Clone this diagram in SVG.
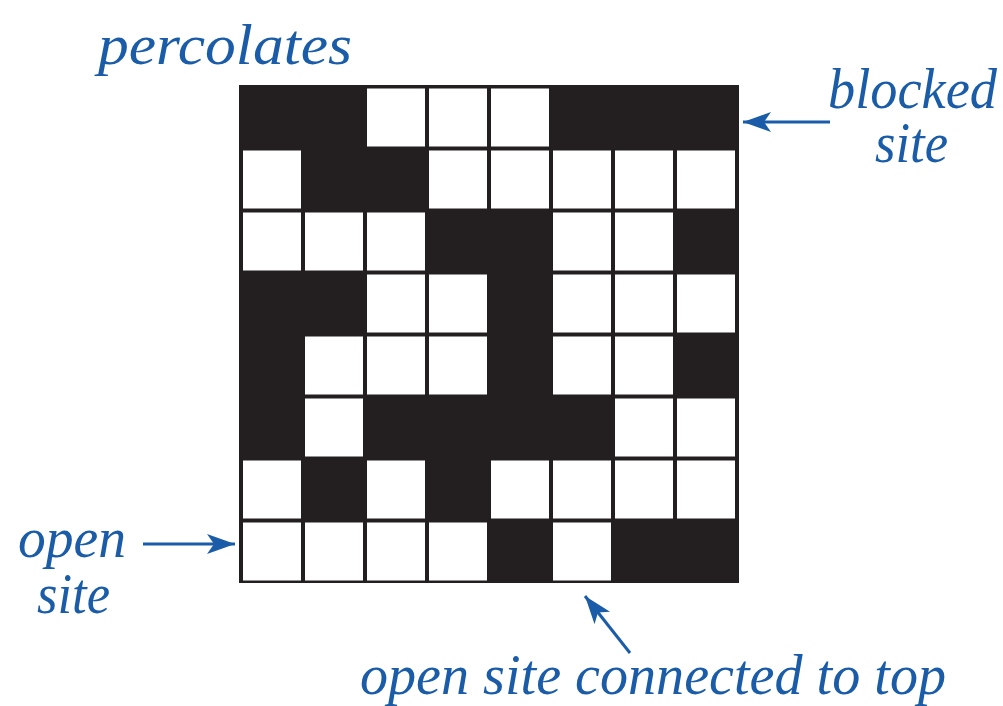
<svg xmlns="http://www.w3.org/2000/svg" width="1003" height="706" viewBox="0 0 1003 706">
<style>
.lbl{font-family:"Liberation Serif","DejaVu Serif",serif;font-style:italic;font-size:56px;fill:#1a5ca8}
.w{fill:#ffffff}
.conn{stroke:#1a5ca8;stroke-width:3;fill:none;marker-end:url(#ah)}
</style>
<defs>
<marker id="ah" viewBox="0 0 28 20" refX="28" refY="10" markerWidth="28" markerHeight="20" markerUnits="userSpaceOnUse" orient="auto">
<path d="M0,0 L28,10 L0,20 L7,10 z" fill="#1a5ca8"/>
</marker>
</defs>
<rect width="1003" height="706" fill="#ffffff"/>
<g id="grid">
<rect x="239" y="85" width="500" height="498" fill="#231f20"/>
<!-- row 0: B B W W W B B B -->
<rect class="w" x="367" y="88.5" width="58" height="58"/>
<rect class="w" x="429" y="88.5" width="58" height="58"/>
<rect class="w" x="491" y="88.5" width="58" height="58"/>
<!-- row 1: W B B W W W W W -->
<rect class="w" x="243" y="150.5" width="58" height="58"/>
<rect class="w" x="429" y="150.5" width="58" height="58"/>
<rect class="w" x="491" y="150.5" width="58" height="58"/>
<rect class="w" x="553" y="150.5" width="58" height="58"/>
<rect class="w" x="615" y="150.5" width="58" height="58"/>
<rect class="w" x="677" y="150.5" width="58" height="58"/>
<!-- row 2: W W W B B W W B -->
<rect class="w" x="243" y="212.5" width="58" height="58"/>
<rect class="w" x="305" y="212.5" width="58" height="58"/>
<rect class="w" x="367" y="212.5" width="58" height="58"/>
<rect class="w" x="553" y="212.5" width="58" height="58"/>
<rect class="w" x="615" y="212.5" width="58" height="58"/>
<!-- row 3: B B W W B W W W -->
<rect class="w" x="367" y="274.5" width="58" height="58"/>
<rect class="w" x="429" y="274.5" width="58" height="58"/>
<rect class="w" x="553" y="274.5" width="58" height="58"/>
<rect class="w" x="615" y="274.5" width="58" height="58"/>
<rect class="w" x="677" y="274.5" width="58" height="58"/>
<!-- row 4: B W W W B W W B -->
<rect class="w" x="305" y="336.5" width="58" height="58"/>
<rect class="w" x="367" y="336.5" width="58" height="58"/>
<rect class="w" x="429" y="336.5" width="58" height="58"/>
<rect class="w" x="553" y="336.5" width="58" height="58"/>
<rect class="w" x="615" y="336.5" width="58" height="58"/>
<!-- row 5: B W B B B B W W -->
<rect class="w" x="305" y="398.5" width="58" height="58"/>
<rect class="w" x="615" y="398.5" width="58" height="58"/>
<rect class="w" x="677" y="398.5" width="58" height="58"/>
<!-- row 6: W B W B W W W W -->
<rect class="w" x="243" y="460.5" width="58" height="58"/>
<rect class="w" x="367" y="460.5" width="58" height="58"/>
<rect class="w" x="491" y="460.5" width="58" height="58"/>
<rect class="w" x="553" y="460.5" width="58" height="58"/>
<rect class="w" x="615" y="460.5" width="58" height="58"/>
<rect class="w" x="677" y="460.5" width="58" height="58"/>
<!-- row 7: W W W W B W B B -->
<rect class="w" x="243" y="522.5" width="58" height="58"/>
<rect class="w" x="305" y="522.5" width="58" height="58"/>
<rect class="w" x="367" y="522.5" width="58" height="58"/>
<rect class="w" x="429" y="522.5" width="58" height="58"/>
<rect class="w" x="553" y="522.5" width="58" height="58"/>
</g>
<g id="title">
<text class="lbl" x="98" y="64" font-size="58" textLength="254" lengthAdjust="spacingAndGlyphs">percolates</text>
</g>
<g id="label-blocked">
<text class="lbl" x="828" y="108" textLength="169" lengthAdjust="spacingAndGlyphs">blocked</text>
<text class="lbl" x="875" y="162" textLength="73" lengthAdjust="spacingAndGlyphs">site</text>
</g>
<g id="label-open">
<text class="lbl" x="18" y="557" textLength="108" lengthAdjust="spacingAndGlyphs">open</text>
<text class="lbl" x="37" y="613" textLength="73" lengthAdjust="spacingAndGlyphs">site</text>
</g>
<g id="label-connected">
<text class="lbl" x="360" y="694" font-size="58" textLength="586" lengthAdjust="spacingAndGlyphs">open site connected to top</text>
</g>
<g id="connectors">
<line class="conn" x1="830" y1="122" x2="743" y2="122"/>
<line class="conn" x1="143" y1="544" x2="235" y2="544"/>
<line class="conn" x1="630" y1="653" x2="585" y2="596"/>
</g>
</svg>
